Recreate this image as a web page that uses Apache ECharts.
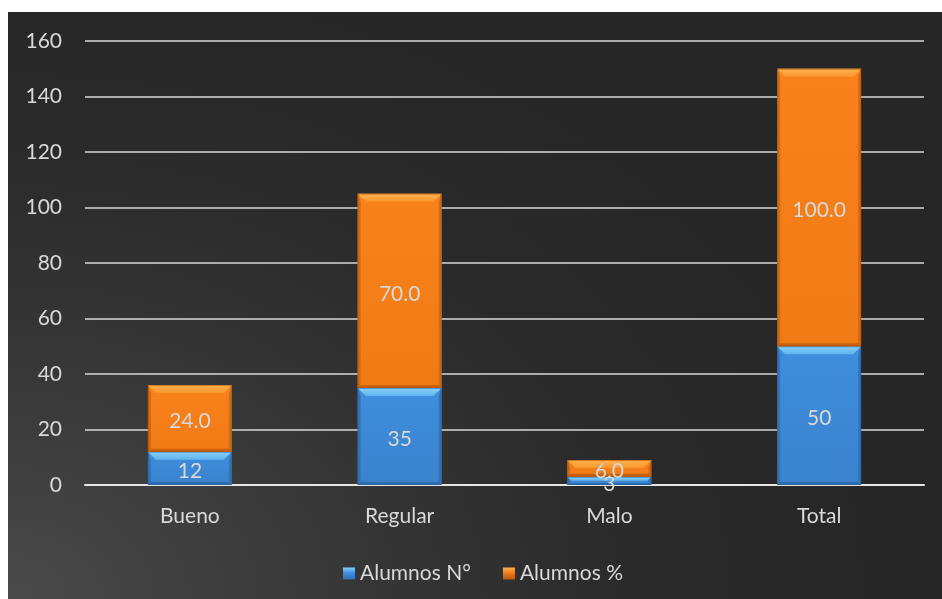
<!DOCTYPE html>
<html>
<head>
<meta charset="utf-8">
<script src="https://cdn.jsdelivr.net/npm/echarts@6/dist/echarts.min.js"></script>
<style>
  html, body { margin: 0; padding: 0; background: #ffffff; }
  #chart {
    position: absolute; left: 8px; top: 12px; width: 934px; height: 587px;
    background: radial-gradient(ellipse 95% 110% at 0% 100%, #4a4a4a 0%, #383838 35%, #2a2a2a 70%, #262626 100%);
  }
</style>
</head>
<body>
<div id="chart"></div>
<script>
// Categories and the two stacked series
const categories = ['Bueno', 'Regular', 'Malo', 'Total'];
const alumnosN = [12, 35, 3, 50];
const alumnosPct = [24.0, 70.0, 6.0, 100.0];
const yTicks = { min: 0, max: 160, interval: 20 };

const FONT = 'Lato, "Open Sans", sans-serif';
const TEXT = '#d9d9d9';
const FS = 21;

const palettes = {
  blue:   { face: '#3f8fdd', faceDark: '#3a82cc', top: '#8ad3fb', topDark: '#5fb3ef', side: '#2f6fb3', bottom: '#2c66a6', stroke: '#2a5f9a' },
  orange: { face: '#f9821c', faceDark: '#f07a14', top: '#ffb452', topDark: '#fb962c', side: '#cf640e', bottom: '#c25c0c', stroke: '#a9500c' }
};

// Bevelled bar segment drawn between two stacked values
function bevelSegment(pal, decimals) {
  return function (params, api) {
    const idx = api.value(0);
    const base = api.value(1);
    const val = api.value(2);
    const pTop = api.coord([idx, base + val]);
    const pBot = api.coord([idx, base]);
    const bandW = api.size([1, 0])[0];
    const w = bandW * 0.4;
    const x0 = pTop[0] - w / 2, x1 = pTop[0] + w / 2;
    const yT = pTop[1], yB = pBot[1];
    const h = yB - yT;
    const b = Math.min(8, h / 2);
    const s = Math.min(3, w / 4);
    const sb = Math.min(3, h / 4);
    const children = [
      { type: 'rect', shape: { x: x0, y: yT, width: w, height: h },
        style: { fill: new echarts.graphic.LinearGradient(0, 0, 0, 1, [
          { offset: 0, color: pal.face }, { offset: 1, color: pal.faceDark }]) } },
      { type: 'polygon', shape: { points: [[x0, yT], [x1, yT], [x1 - b, yT + b], [x0 + b, yT + b]] },
        style: { fill: new echarts.graphic.LinearGradient(0, 0, 0, 1, [
          { offset: 0, color: pal.top }, { offset: 1, color: pal.topDark }]) } },
      { type: 'polygon', shape: { points: [[x0, yT], [x0 + s, yT + b], [x0 + s, yB - sb], [x0, yB]] },
        style: { fill: pal.side, opacity: 0.75 } },
      { type: 'polygon', shape: { points: [[x1, yT], [x1 - s, yT + b], [x1 - s, yB - sb], [x1, yB]] },
        style: { fill: pal.side, opacity: 0.75 } },
      { type: 'polygon', shape: { points: [[x0, yB], [x0 + s, yB - sb], [x1 - s, yB - sb], [x1, yB]] },
        style: { fill: pal.bottom, opacity: 0.8 } },
      { type: 'rect', shape: { x: x0 + 0.5, y: yT + 0.5, width: w - 1, height: h - 1 },
        style: { fill: 'none', stroke: pal.stroke, lineWidth: 1, opacity: 0.6 } },
      { type: 'text', x: pTop[0], y: (yT + yB) / 2 + 3,
        style: { text: val.toFixed(decimals), fill: TEXT, font: FS + 'px ' + FONT,
          align: 'center', verticalAlign: 'middle' } }
    ];
    return { type: 'group', children: children };
  };
}

const blueData = categories.map((c, i) => [i, 0, alumnosN[i]]);
const orangeData = categories.map((c, i) => [i, alumnosN[i], alumnosPct[i]]);

const chart = echarts.init(document.getElementById('chart'), null, { renderer: 'canvas' });
chart.setOption({
  backgroundColor: 'transparent',
  animation: false,
  grid: { left: 77, right: 18, top: 29, bottom: 114, containLabel: false },
  legend: {
    left: 330, top: 546,
    itemWidth: 12, itemHeight: 12, itemGap: 32,
    textStyle: { color: TEXT, fontSize: FS, fontFamily: FONT },
    data: [
      { name: 'Alumnos N°', icon: 'rect', itemStyle: { color: new echarts.graphic.LinearGradient(0, 0, 0, 1, [
        { offset: 0, color: '#86d0fa' }, { offset: 0.45, color: '#3f8fdd' }, { offset: 1, color: '#2f6fb3' }]) } },
      { name: 'Alumnos %', icon: 'rect', itemStyle: { color: new echarts.graphic.LinearGradient(0, 0, 0, 1, [
        { offset: 0, color: '#ffb04e' }, { offset: 0.45, color: '#f0801c' }, { offset: 1, color: '#b85a0c' }]) } }
    ]
  },
  xAxis: {
    type: 'category',
    data: categories,
    axisLine: { show: true, lineStyle: { color: '#e6e6e6', width: 2 } },
    axisTick: { show: false },
    axisLabel: { color: TEXT, fontSize: FS, fontFamily: FONT, margin: 21 }
  },
  yAxis: {
    type: 'value',
    min: yTicks.min, max: yTicks.max, interval: yTicks.interval,
    axisLine: { show: false },
    axisTick: { show: false },
    axisLabel: { color: TEXT, fontSize: FS, fontFamily: FONT, margin: 23 },
    splitLine: { lineStyle: { color: '#d9d9d9', width: 1.5 } }
  },
  series: [
    { name: 'Alumnos N°', type: 'custom', renderItem: bevelSegment(palettes.blue, 0),
      encode: { x: 0, y: [1, 2] }, data: blueData, z: 3 },
    { name: 'Alumnos %', type: 'custom', renderItem: bevelSegment(palettes.orange, 1),
      encode: { x: 0, y: [1, 2] }, data: orangeData, z: 3 }
  ]
});
</script>
</body>
</html>
